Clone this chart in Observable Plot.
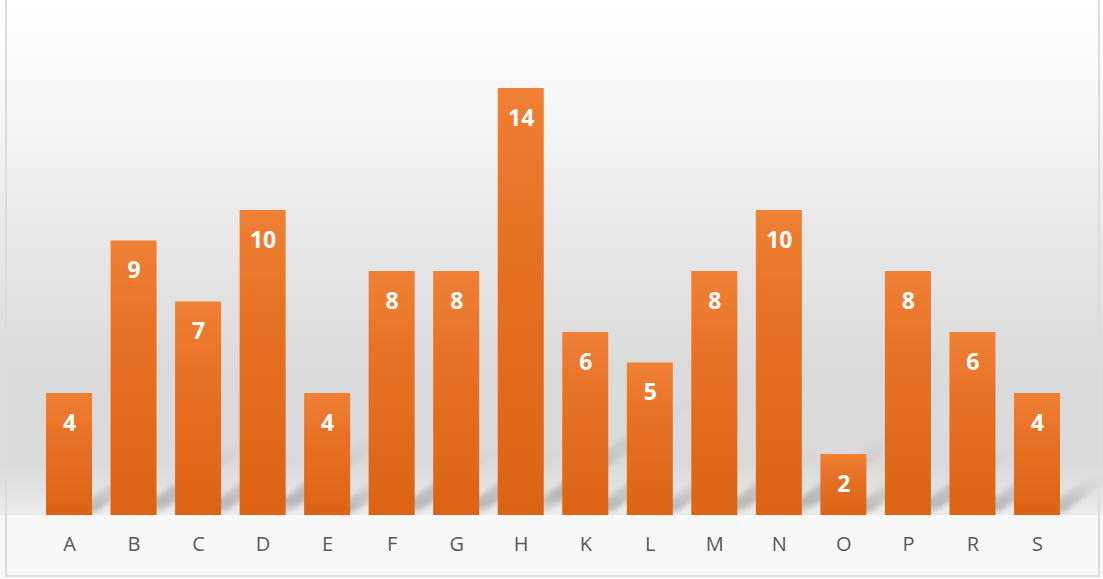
<!DOCTYPE html>
<html>
<head>
<meta charset="utf-8">
<script src="https://cdn.jsdelivr.net/npm/d3@7"></script>
<script src="https://cdn.jsdelivr.net/npm/@observablehq/plot@0.6"></script>
<style>
  html, body { margin: 0; padding: 0; background: #ffffff; }
  #wrap { position: relative; width: 1103px; height: 579px; overflow: hidden; }
  #frame { position: absolute; left: 5px; top: -3px; width: 1095px; height: 580px;
           border: 2px solid #dcdcdc; box-sizing: border-box; pointer-events: none; }
  svg { display: block; }
</style>
</head>
<body>
<div id="wrap"><div id="frame"></div></div>
<script>
const categories = ["A","B","C","D","E","F","G","H","K","L","M","N","O","P","R","S"];
const values = [4, 9, 7, 10, 4, 8, 8, 14, 6, 5, 8, 10, 2, 8, 6, 4];

const data = categories.map((c, i) => ({category: c, value: values[i]}));

// background + gradients definitions
function background(index, scales, vals, dims) {
  const g = d3.create("svg:g");
  const defs = g.append("defs");
  const bg = defs.append("linearGradient").attr("id", "bgGrad")
    .attr("gradientUnits", "userSpaceOnUse")
    .attr("x1", 0).attr("x2", 0).attr("y1", 0).attr("y2", dims.height - dims.marginBottom);
  [[0, "#ffffff"], [0.2, "#f7f7f7"], [0.45, "#e8e8e8"], [0.72, "#dadada"],
   [0.9, "#dadada"], [0.96, "#e4e4e4"], [1, "#ececec"]]
    .forEach(([o, c]) => bg.append("stop").attr("offset", o).attr("stop-color", c));
  const bar = defs.append("linearGradient").attr("id", "barGrad")
    .attr("x1", 0).attr("x2", 0).attr("y1", 0).attr("y2", 1);
  [[0, "#ef8035"], [0.35, "#e77125"], [1, "#dc6313"]]
    .forEach(([o, c]) => bar.append("stop").attr("offset", o).attr("stop-color", c));
  const sh = defs.append("linearGradient").attr("id", "shGrad")
    .attr("x1", 0).attr("x2", 0).attr("y1", 1).attr("y2", 0);
  [[0, "#b0b0b0", 0], [0.15, "#b0b0b0", 0.9], [0.5, "#b8b8b8", 0.6], [1, "#c4c4c4", 0]]
    .forEach(([o, c, a]) => sh.append("stop").attr("offset", o).attr("stop-color", c).attr("stop-opacity", a));
  const blur = defs.append("filter").attr("id", "blur").attr("x", "-20%").attr("y", "-20%")
    .attr("width", "140%").attr("height", "140%");
  blur.append("feGaussianBlur").attr("stdDeviation", 2.5);
  const base = dims.height - dims.marginBottom;
  g.append("rect").attr("x", 0).attr("y", 0).attr("width", dims.width).attr("height", base)
    .attr("fill", "url(#bgGrad)");
  g.append("rect").attr("x", 0).attr("y", base).attr("width", dims.width)
    .attr("height", dims.height - base).attr("fill", "#f8f8f8");
  return g.node();
}

// diagonal reflections behind bars, positioned through the scales
function shadows(index, scales, vals, dims) {
  const g = d3.create("svg:g").attr("filter", "url(#blur)");
  const base = scales.y(0);
  const bw = scales.x.bandwidth();
  const slope = 0.75;
  data.forEach(d => {
    const x1 = scales.x(d.category) + bw;
    const h = base - scales.y(d.value);
    const lv = Math.max(40, 0.28 * h);
    const lx = lv / slope;
    g.append("polygon")
      .attr("points", [[x1 - 24, base], [x1, base], [x1 + lx, base - lv], [x1 - 24 + lx, base - lv]]
        .map(p => p.join(",")).join(" "))
      .attr("fill", "url(#shGrad)");
  });
  return g.node();
}

const chart = Plot.plot({
  width: 1103,
  height: 579,
  marginTop: 27,
  marginBottom: 64,
  marginLeft: 0,
  marginRight: 0,
  style: {background: "transparent", fontFamily: "'Open Sans', 'DejaVu Sans', sans-serif"},
  x: {domain: categories, range: [27.5, 1078.5], padding: 0.287, round: false, label: null},
  y: {domain: [0, 16], axis: null},
  marks: [
    background,
    shadows,
    Plot.barY(data, {x: "category", y: "value", fill: "url(#barGrad)"}),
    Plot.text(data, {x: "category", y: "value", text: d => String(d.value), dy: 30,
      fill: "#ffffff", fontSize: 23, fontWeight: "bold"}),
    Plot.axisX({tickSize: 0, tickPadding: 21, fontSize: 20, color: "#595959", label: null})
  ]
});
document.getElementById("wrap").prepend(chart);
</script>
</body>
</html>
